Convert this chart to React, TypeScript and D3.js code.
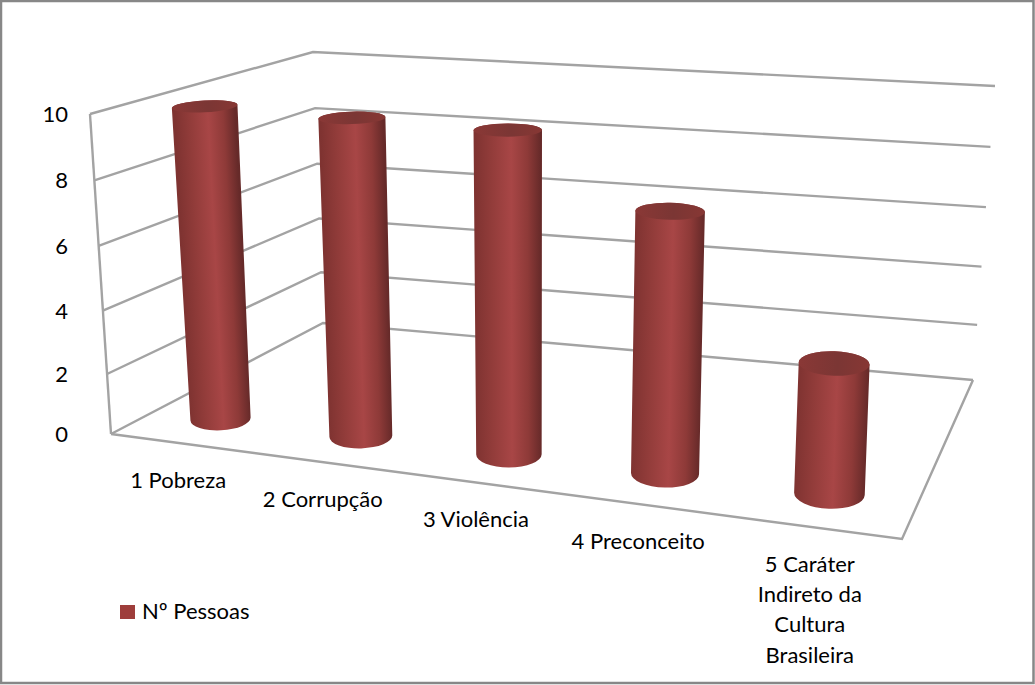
import React from 'react';
import * as d3 from 'd3';

const categories = [['1 Pobreza'], ['2 Corrupção'], ['3 Violência'], ['4 Preconceito'], ['5 Caráter', 'Indireto da', 'Cultura', 'Brasileira']];
const pessoas = [10, 10, 10, 8, 4];
const yTicks = [0, 2, 4, 6, 8, 10];
const seriesName = 'Nº Pessoas';

const width = 1035;
const height = 685;
const font = 'Lato, "Open Sans", sans-serif';
const gridColor = '#a3a3a3';

// corners of the box as they sit on the picture: front left, front right, back right, back left
const floorCorners = [[111, 434], [902, 539], [973, 380], [323, 323]];
const topCorners = [[90, 114], [913, 185], [995, 86], [313, 52]];

function homography(q: number[][]) {
  const [[x0, y0], [x1, y1], [x2, y2], [x3, y3]] = q;
  const sx = x0 - x1 + x2 - x3, sy = y0 - y1 + y2 - y3;
  const dx1 = x1 - x2, dx2 = x3 - x2, dy1 = y1 - y2, dy2 = y3 - y2;
  const den = dx1 * dy2 - dx2 * dy1;
  const g = (sx * dy2 - dx2 * sy) / den;
  const h = (dx1 * sy - sx * dy1) / den;
  const a = x1 - x0 + g * x1, b = x3 - x0 + h * x3;
  const d = y1 - y0 + g * y1, e = y3 - y0 + h * y3;
  return (u: number, v: number) => {
    const w = g * u + h * v + 1;
    return [(a * u + b * v + x0) / w, (d * u + e * v + y0) / w];
  };
}

const floorPlane = homography(floorCorners);
const topPlane = homography(topCorners);
// the original's spacing is more even than plain perspective gives
const warp = (u: number, k: number) => u + k * u * (1 - u);

function project(u: number, v: number, t: number) {
  const f = floorPlane(warp(u, 0.1), v), c = topPlane(warp(u, 0.207), v);
  return [f[0] + (c[0] - f[0]) * t, f[1] + (c[1] - f[1]) * t];
}

const yScale = d3.scalePow().exponent(1.04).domain([0, 10]).range([0, 1]);
const xScale = d3.scaleBand().domain(categories.map(c => c[0])).range([-0.003, 0.997]);
const barDepth = 0.175;
const radiusBottom = d3.scaleLinear().domain([0, 1]).range([29.5, 36]);
const radiusTop = d3.scaleLinear().domain([0, 1]).range([32.5, 36]);
// flatter ellipses high on the picture, rounder ones low down
const flatness = d3.scaleLinear().domain([110, 498]).range([0.18, 0.43]);

function Cylinder({ name, value, i }: { name: string; value: number; i: number }) {
  const u = xScale(name)! + xScale.bandwidth() / 2;
  const t = yScale(value);
  const base = project(u, barDepth, 0);
  const top = project(u, barDepth, t);
  const ax = base[0] - top[0], ay = base[1] - top[1];
  const len = Math.hypot(ax, ay);
  const nx = ay / len, ny = -ax / len; // perpendicular to the axis
  const angle = (Math.atan2(ny, nx) * 180) / Math.PI;

  const rb = radiusBottom(u);
  const rt = rb + (radiusTop(u) - rb) * t;
  const ryt = rt * flatness(top[1]), ryb = rb * flatness(base[1]);

  const side = `M${top[0] - nx * rt},${top[1] - ny * rt}
    L${base[0] - nx * rb},${base[1] - ny * rb}
    A${rb},${ryb} ${angle} 0 0 ${base[0] + nx * rb},${base[1] + ny * rb}
    L${top[0] + nx * rt},${top[1] + ny * rt}
    A${rt},${ryt} ${angle} 0 0 ${top[0] - nx * rt},${top[1] - ny * rt}Z`;

  const mid = [(top[0] + base[0]) / 2, (top[1] + base[1]) / 2];
  return (
    <g>
      <defs>
        <linearGradient id={`side${i}`} gradientUnits="userSpaceOnUse"
          x1={mid[0] - nx * rb} y1={mid[1] - ny * rb} x2={mid[0] + nx * rb} y2={mid[1] + ny * rb}>
          <stop offset="0" stopColor="#7f3331" />
          <stop offset="0.25" stopColor="#923c3a" />
          <stop offset="0.55" stopColor="#a84646" />
          <stop offset="0.8" stopColor="#8e3a38" />
          <stop offset="1" stopColor="#662a29" />
        </linearGradient>
        <linearGradient id={`cap${i}`} x1="0" x2="1" y1="0" y2="0">
          <stop offset="0" stopColor="#8a3836" />
          <stop offset="0.55" stopColor="#7b3634" />
          <stop offset="1" stopColor="#873734" />
        </linearGradient>
      </defs>
      <path d={side} fill={`url(#side${i})`} />
      <ellipse cx={0} cy={0} rx={rt} ry={ryt} fill={`url(#cap${i})`}
        transform={`translate(${top[0]},${top[1]}) rotate(${angle})`} />
    </g>
  );
}

export default function App() {
  const line = d3.line();
  const gridPath = (t: number) => line([project(0, 0, t), project(0, 1, t), project(1, 1, t)] as [number, number][])!;
  const floorFront = line([project(0, 0, 0), project(1, 0, 0), project(1, 1, 0)] as [number, number][])!;
  const leftEdge = line([project(0, 0, 0), project(0, 0, 1)] as [number, number][])!;

  return (
    <svg width={width} height={height} style={{ position: 'absolute', left: 0, top: 0, display: 'block' }}>
      <rect x={1} y={1} width={width - 2.5} height={height - 3} fill="#ffffff" stroke="#878787" strokeWidth={2.5} />

      <g fill="none" stroke={gridColor} strokeWidth={2.4} strokeLinejoin="miter">
        {yTicks.map(t => <path key={t} d={gridPath(yScale(t))} />)}
        <path d={floorFront} />
        <path d={leftEdge} />
      </g>

      <g fontFamily={font} fontSize={22} fill="#000000">
        {yTicks.map(t => {
          const p = project(0, 0, yScale(t));
          return <text key={t} x={68} y={p[1] + 8} textAnchor="end">{t}</text>;
        })}
        {categories.map(lines => {
          const p = project(xScale(lines[0])! + xScale.bandwidth() / 2, 0, 0);
          return (
            <text key={lines[0]} textAnchor="middle">
              {lines.map((s, j) => <tspan key={s} x={p[0]} y={p[1] + 45 + j * 30.3}>{s}</tspan>)}
            </text>
          );
        })}
        <text x={142} y={619}>{seriesName}</text>
      </g>

      {categories.map((c, i) => <Cylinder key={c[0]} name={c[0]} value={pessoas[i]} i={i} />)}

      <rect x={120} y={605} width={15} height={14} fill="#9e3d3b" />
    </svg>
  );
}
